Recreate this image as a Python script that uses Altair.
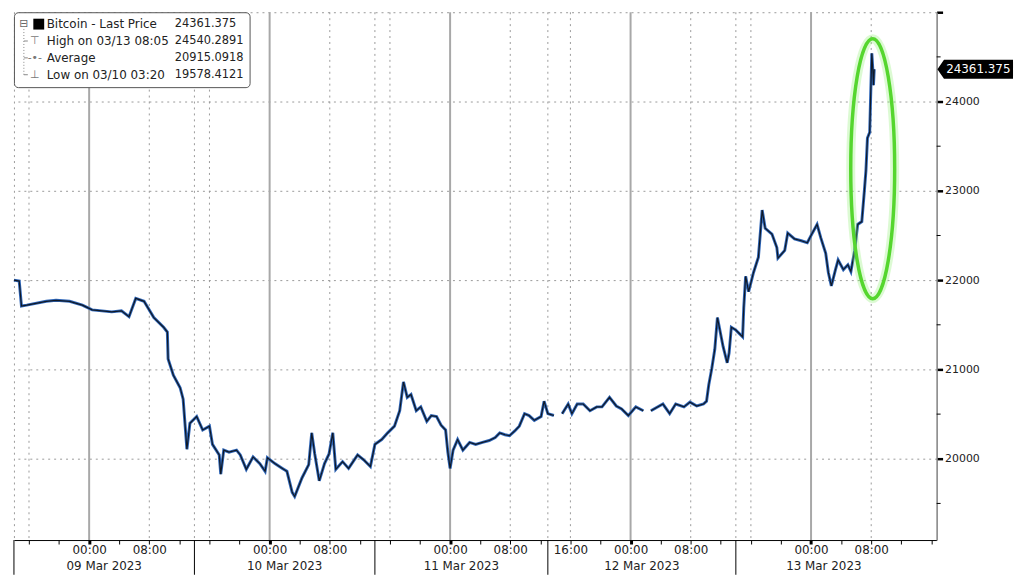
import altair as alt
import pandas as pd

# ---- data (hours since 09 Mar 2023 00:00, price in USD) ----
seg0_hours = [-10.0, -9.3, -9.0, -8.3, -5.7, -4.4, -2.6, -0.9, 0.4, 1.7, 3.0, 4.3, 5.3, 6.2, 7.3, 8.6, 9.9,
              10.4, 10.5, 11.2, 12.1, 12.5, 13.0, 13.4, 14.3, 15.1, 16.0, 16.4, 17.3, 17.5, 17.9, 18.6, 19.6,
              20.1, 20.9, 21.8, 22.7, 23.4, 23.7, 24.7, 25.7, 26.3, 27.0, 27.33, 28.3, 29.2, 29.6, 30.0, 30.6,
              31.3, 31.9, 32.4, 32.8, 33.7, 34.5, 35.7, 36.5, 37.4, 38.0, 38.9, 39.7, 40.6, 41.3, 41.8, 42.3,
              42.8, 43.5, 44.1, 44.9, 45.5, 46.2, 46.8, 47.4, 47.7, 48.0, 48.4, 49.0, 49.7, 50.6, 51.4, 52.3,
              53.2, 54.0, 54.6, 55.3, 55.9, 56.6, 57.2, 57.9, 58.5, 59.2, 60.1, 60.5, 61.0, 61.8]
seg0_prices = [22000, 21990, 21710, 21720, 21763, 21774, 21763, 21720, 21667, 21656, 21645, 21656, 21591,
               21796, 21763, 21581, 21473, 21419, 21118, 20935, 20796, 20667, 20107, 20398, 20473, 20322,
               20365, 20161, 20043, 19828, 20097, 20075, 20097, 20043, 19882, 20021, 19946, 19860, 20011,
               19946, 19892, 19860, 19624, 19578, 19785, 19935, 20290, 20054, 19753, 19946, 20054, 20290,
               19882, 19968, 19892, 20043, 19989, 19914, 20161, 20215, 20290, 20365, 20538, 20860, 20688,
               20720, 20538, 20581, 20419, 20484, 20473, 20376, 20322, 20075, 19892, 20097, 20215, 20097,
               20183, 20161, 20183, 20204, 20237, 20290, 20269, 20258, 20312, 20365, 20505, 20484, 20430,
               20473, 20645, 20505, 20484]
seg1_hours = [62.9, 63.7, 64.2, 64.9, 65.7, 66.6, 67.5, 68.2, 69.2, 70.1, 70.8, 71.7, 72.7, 73.7]
seg1_prices = [20505, 20613, 20505, 20613, 20613, 20538, 20581, 20581, 20688, 20591, 20559, 20484, 20581, 20538]
seg2_hours = [74.7, 76.3, 77.2, 78.0, 79.1, 79.9, 80.8, 81.7, 82.1, 82.4, 82.8, 83.2, 83.55, 83.8, 84.3,
              84.85, 85.1, 85.4, 86.0, 86.9, 87.05, 87.3, 87.7, 88.35, 89.0, 89.5, 89.9, 90.8, 91.45, 91.6,
              92.5, 92.9, 93.8, 94.7, 95.5, 96.1, 96.8, 97.3, 97.95, 98.3, 98.7, 99.25, 99.6, 100.3, 100.9,
              101.3, 101.8, 102.2, 102.75, 103.1, 103.3, 103.5, 103.8, 103.9, 104.08, 104.2, 104.3, 104.4]
seg2_prices = [20538, 20613, 20505, 20613, 20581, 20634, 20591, 20613, 20645, 20828, 21011, 21226, 21581,
               21473, 21258, 21075, 21183, 21473, 21441, 21366, 21688, 22043, 21871, 22086, 22258, 22785,
               22581, 22516, 22366, 22247, 22333, 22527, 22462, 22441, 22419, 22516, 22624, 22473, 22301,
               22086, 21935, 22118, 22226, 22118, 22172, 22097, 22333, 22624, 22656, 23011, 23226, 23591,
               23656, 23978, 24540, 24376, 24183, 24361.375]

last_price = 24361.375
legend_labels = ["Bitcoin - Last Price", "High on 03/13 08:05", "Average", "Low on 03/10 03:20"]
legend_values = ["24361.375", "24540.2891", "20915.0918", "19578.4121"]
legend_icons = ["", "\u22a4", "-\u2022-", "\u22a5"]

tick_hours = list(range(-8, 113, 4))
label_hours = [0, 8, 24, 32, 48, 56, 64, 72, 80, 96, 104]
solid_hours = [0, 24, 48, 72, 96]
dotted_hours = [-8, 8, 16, 32, 40, 56, 64, 80, 88, 104, 14, 38, 61, 86]
sep_hours = [-10, 14, 38, 61, 86]
date_hours = [2, 26, 49.5, 73.5, 97.7]
date_labels = ["09 Mar 2023", "10 Mar 2023", "11 Mar 2023", "12 Mar 2023", "13 Mar 2023"]
major_levels = [20000, 21000, 22000, 23000, 24000, 25000]
minor_levels = [19500, 20500, 21500, 22500, 23500, 24500]
ellipse_center = {"hour": 104.2, "price": 23248}

# ---- layout ----
W, H = 930, 532
FONT = "DejaVu Sans"
TXT = "#222222"

df = pd.concat([
    pd.DataFrame({"hour": seg0_hours, "price": seg0_prices, "seg": 0}),
    pd.DataFrame({"hour": seg1_hours, "price": seg1_prices, "seg": 1}),
    pd.DataFrame({"hour": seg2_hours, "price": seg2_prices, "seg": 2}),
])

xscale = alt.Scale(domain=[-10, 112.7], nice=False, zero=False)
yscale = alt.Scale(domain=[19090, 25000], nice=False, zero=False)

label_js = "[" + ",".join(str(v) for v in label_hours) + "]"
x_axis = alt.Axis(
    values=tick_hours,
    labelExpr=f"indexof({label_js}, datum.value) >= 0 ? (datum.value % 24 == 0 ? '00:00' : (datum.value % 24 == 8 ? '08:00' : '16:00')) : ''",
    grid=False, tickSize=4, tickColor="#000", domainColor="#000", domainWidth=1,
    tickWidth={"condition": {"test": "datum.value % 24 == 0", "value": 3}, "value": 1},
    labelFontSize=12, labelFont=FONT, labelColor=TXT, labelPadding=1,
    labelOverlap=False, labelFlush=False, title=None,
)
y_axis = alt.Axis(
    orient="right", values=major_levels,
    labelExpr="datum.value == 25000 ? '' : format(datum.value, 'd')",
    grid=True, gridDash=[2, 4], gridColor="#9a9a9a", gridWidth=1,
    tickSize=6, tickWidth=2.5, tickColor="#000", domainColor="#808080", domainWidth=1.5,
    labelFontSize=11, labelFont=FONT, labelColor=TXT, labelPadding=2, title=None,
)


def X():
    return alt.X("hour:Q", scale=xscale, axis=x_axis)


def Y():
    return alt.Y("price:Q", scale=yscale, axis=y_axis)


base = alt.Chart(df).encode(x=X(), y=Y(), detail="seg:N")
line_blue = base.mark_line(color="#2f66b8", strokeWidth=3)
line_black = base.mark_line(color="#0b0b0b", strokeWidth=1.2, opacity=0.85)


def xrule(hours, **kw):
    return alt.Chart(pd.DataFrame({"hour": hours})).mark_rule(**kw).encode(x=X())


solid_rules = xrule(solid_hours, color="#a8a8a8", strokeWidth=2)
dotted_rules = xrule(dotted_hours, color="#9a9a9a", strokeWidth=1, strokeDash=[2, 4])
sep_rules = alt.Chart(pd.DataFrame({"hour": sep_hours})).mark_rule(color="#000", strokeWidth=1).encode(
    x=X(), y=alt.value(H), y2=alt.value(H + 35))

one = pd.DataFrame({"a": [0]})
left_border = alt.Chart(one).mark_rule(color="#9a9a9a", strokeDash=[2, 4]).encode(
    x=alt.value(0.5), y=alt.value(0), y2=alt.value(H))

minor_ticks = alt.Chart(pd.DataFrame({"price": minor_levels})).mark_rule(color="#000", strokeWidth=1).encode(
    y=Y(), x=alt.value(W), x2=alt.value(W + 4))

date_text = alt.Chart(pd.DataFrame({"hour": date_hours, "label": date_labels})).mark_text(
    font=FONT, fontSize=12, color=TXT, baseline="alphabetic").encode(
    x=X(), y=alt.value(H + 30), text="label:N")

ell_path = "M0,-1A0.169,1,0,1,1,0,1A0.169,1,0,1,1,0,-1Z"
ell_df = pd.DataFrame([ellipse_center])
ellipse_glow = alt.Chart(ell_df).mark_point(shape=ell_path, size=262 ** 2, filled=False,
                                            stroke="#8ef070", strokeWidth=9, opacity=0.3).encode(x=X(), y=Y())
ellipse = alt.Chart(ell_df).mark_point(shape=ell_path, size=262 ** 2, filled=False,
                                       stroke="#55d62e", strokeWidth=3.5, opacity=1).encode(x=X(), y=Y())

tag_df = pd.DataFrame({"price": [last_price], "label": [legend_values[0]]})
tag = alt.Chart(tag_df).mark_point(
    shape="M-1,0L-0.84,-0.23L1,-0.23L1,0.23L-0.84,0.23Z", size=74 ** 2, filled=True,
    fill="#000", stroke="#000", opacity=1).encode(y=Y(), x=alt.value(W + 39))
tag_text = alt.Chart(tag_df).mark_text(font=FONT, fontSize=12, color="#fff", align="center").encode(
    y=Y(), x=alt.value(W + 42), text="label:N")

# ---- legend box ----
leg_layers = [
    alt.Chart(one).mark_rect(fill="#fff", stroke="#555", strokeWidth=1, cornerRadius=4).encode(
        x=alt.value(0.5), x2=alt.value(238), y=alt.value(0.5), y2=alt.value(76)),
    alt.Chart(one).mark_rule(color="#888", strokeDash=[1, 2]).encode(
        x=alt.value(10), y=alt.value(17), y2=alt.value(63)),
    alt.Chart(one).mark_text(text="\u229f", font=FONT, fontSize=11, color="#666").encode(
        x=alt.value(10), y=alt.value(12)),
    alt.Chart(one).mark_square(size=120, color="#000", opacity=1, filled=True).encode(
        x=alt.value(25), y=alt.value(12)),
]
row_y = [12, 29, 46, 63]
for i in range(4):
    leg_layers.append(alt.Chart(one).mark_text(text=legend_labels[i], font=FONT, fontSize=12, color=TXT,
                                               align="left").encode(x=alt.value(33), y=alt.value(row_y[i])))
    leg_layers.append(alt.Chart(one).mark_text(text=legend_values[i], font=FONT, fontSize=11.5, color=TXT,
                                               align="left").encode(x=alt.value(162), y=alt.value(row_y[i])))
    if legend_icons[i]:
        leg_layers.append(alt.Chart(one).mark_rule(color="#888").encode(
            x=alt.value(10), x2=alt.value(14), y=alt.value(row_y[i])))
        leg_layers.append(alt.Chart(one).mark_text(text=legend_icons[i], font=FONT, fontSize=11, color="#777",
                                                   align="center").encode(x=alt.value(21), y=alt.value(row_y[i])))

chart = alt.layer(
    solid_rules, dotted_rules, left_border, line_blue, line_black, sep_rules, minor_ticks, date_text,
    ellipse_glow, ellipse, tag, tag_text, *leg_layers,
).properties(width=W, height=H, padding={"left": 0, "top": 0, "right": 0, "bottom": 0},
             background="#ffffff").configure_view(stroke=None)

chart.save("out.html", embed_options={"renderer": "svg", "actions": False})
